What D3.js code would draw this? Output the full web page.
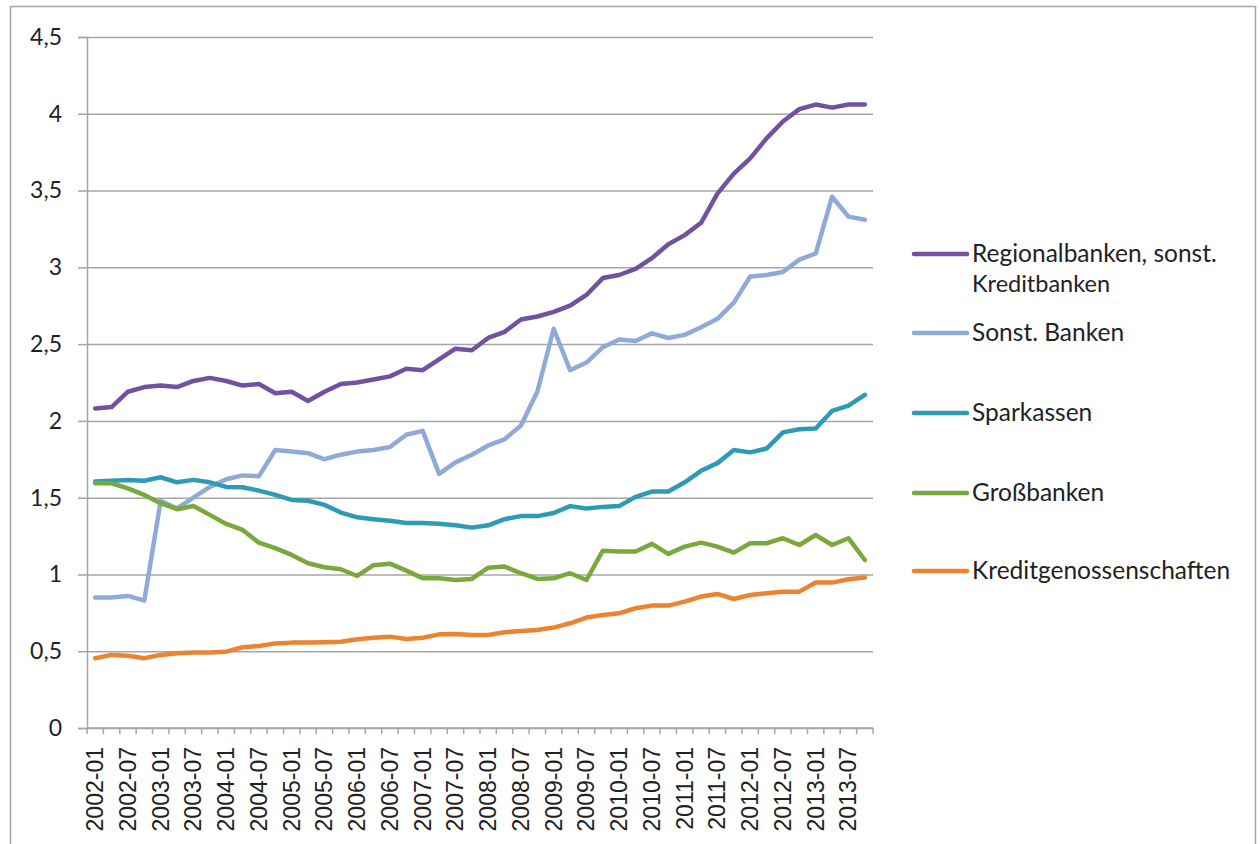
<!DOCTYPE html>
<meta charset="utf-8">
<head>
<script src="https://d3js.org/d3.v7.min.js"></script>
<style>
  body { margin: 0; background: #fff; }
  svg { display: block; }
</style>
</head>
<body>
<svg id="chart" width="1260" height="844"></svg>
<script>

// quarters 2002-01 ... 2013-10
var years = d3.range(2002, 2014);
var months = ["01", "04", "07", "10"];
var quarters = years.flatMap(function(y) { return months.map(function(m) { return y + "-" + m; }); });

var yTicks = [0, 0.5, 1, 1.5, 2, 2.5, 3, 3.5, 4, 4.5];

var seriesNames = ["Regionalbanken, sonst. Kreditbanken", "Sonst. Banken", "Sparkassen", "Großbanken", "Kreditgenossenschaften"];
var seriesColors = ["#7151a0", "#8faad8", "#2e9bb6", "#79a83c", "#ea8431"];

var regional = [2.08, 2.09, 2.19, 2.22, 2.23, 2.22, 2.26, 2.28, 2.26, 2.23, 2.24, 2.18,
                2.19, 2.13, 2.19, 2.24, 2.25, 2.27, 2.29, 2.34, 2.33, 2.40, 2.47, 2.46,
                2.54, 2.58, 2.66, 2.68, 2.71, 2.75, 2.82, 2.93, 2.95, 2.99, 3.06, 3.15,
                3.21, 3.29, 3.48, 3.61, 3.71, 3.84, 3.95, 4.03, 4.06, 4.04, 4.06, 4.06];
var sonstBanken = [0.85, 0.85, 0.86, 0.83, 1.48, 1.43, 1.50, 1.57, 1.62, 1.645, 1.64, 1.81,
                   1.80, 1.79, 1.75, 1.78, 1.80, 1.81, 1.83, 1.91, 1.935, 1.655, 1.73, 1.78,
                   1.84, 1.88, 1.97, 2.19, 2.60, 2.33, 2.38, 2.48, 2.53, 2.52, 2.57, 2.54,
                   2.56, 2.61, 2.665, 2.77, 2.94, 2.95, 2.97, 3.05, 3.09, 3.46, 3.33, 3.31];
var sparkassen = [1.605, 1.61, 1.615, 1.61, 1.633, 1.60, 1.616, 1.60, 1.57, 1.568, 1.546, 1.518,
                  1.485, 1.48, 1.453, 1.403, 1.372, 1.36, 1.35, 1.335, 1.335, 1.33, 1.32, 1.305,
                  1.32, 1.36, 1.38, 1.38, 1.40, 1.445, 1.43, 1.44, 1.445, 1.505, 1.54, 1.54,
                  1.60, 1.675, 1.725, 1.81, 1.795, 1.82, 1.925, 1.945, 1.95, 2.065, 2.10, 2.17];
var grossbanken = [1.594, 1.594, 1.561, 1.518, 1.464, 1.425, 1.446, 1.388, 1.329, 1.29, 1.207, 1.171,
                   1.127, 1.073, 1.047, 1.034, 0.99, 1.06, 1.07, 1.025, 0.975, 0.975, 0.964, 0.971,
                   1.044, 1.051, 1.008, 0.971, 0.975, 1.008, 0.964, 1.155, 1.149, 1.149, 1.199, 1.134,
                   1.181, 1.207, 1.181, 1.142, 1.203, 1.203, 1.236, 1.192, 1.257, 1.192, 1.236, 1.094];
var kreditgen = [0.454, 0.476, 0.471, 0.454, 0.476, 0.487, 0.491, 0.491, 0.497, 0.526, 0.534, 0.551,
                 0.556, 0.556, 0.558, 0.562, 0.578, 0.588, 0.595, 0.58, 0.588, 0.61, 0.612, 0.606,
                 0.606, 0.623, 0.632, 0.638, 0.654, 0.682, 0.719, 0.736, 0.747, 0.78, 0.797, 0.797,
                 0.823, 0.856, 0.873, 0.84, 0.866, 0.877, 0.888, 0.888, 0.947, 0.947, 0.969, 0.98];

var seriesValues = [regional, sonstBanken, sparkassen, grossbanken, kreditgen];

var svg = d3.select("#chart");

// outer frame
svg.append("rect")
  .attr("x", 10.5).attr("y", 6.5)
  .attr("width", 1245).attr("height", 850)
  .attr("fill", "#fff")
  .attr("stroke", "#a3a3a3")
  .attr("stroke-width", 1.5);

var x = d3.scaleBand()
  .domain(quarters)
  .range([87, 873])
  .padding(0);

var y = d3.scaleLinear()
  .domain([0, 4.5])
  .range([728, 37]);

var de = d3.formatLocale({decimal: ",", thousands: ".", grouping: [3], currency: ["", " €"]});
var fmt = de.format("~g");

// gridlines
svg.append("g")
  .attr("transform", "translate(87,0)")
  .call(d3.axisLeft(y).tickValues(yTicks).tickSize(-786).tickFormat(""))
  .call(function(g) {
    g.select(".domain").remove();
    g.selectAll(".tick line").attr("stroke", "#a6a6a6").attr("stroke-width", 1.5);
  });

// y axis
svg.append("g")
  .attr("transform", "translate(87,0)")
  .call(d3.axisLeft(y).tickValues(yTicks).tickSize(9).tickPadding(16).tickFormat(fmt))
  .call(function(g) {
    g.select(".domain").attr("stroke", "#a6a6a6").attr("stroke-width", 1.5);
    g.selectAll(".tick line").attr("stroke", "#a6a6a6").attr("stroke-width", 1.5);
    g.selectAll("text")
      .attr("fill", "#222")
      .style("font-family", "Lato, 'Open Sans', sans-serif")
      .style("font-size", "23px");
  });

// x axis: ticks between categories
var xAxis = svg.append("g")
  .attr("transform", "translate(0,728)");

xAxis.append("line")
  .attr("x1", 87).attr("x2", 873)
  .attr("stroke", "#a6a6a6").attr("stroke-width", 1.5);

xAxis.selectAll(".xtick")
  .data(quarters.concat(["end"]))
  .enter().append("line")
  .attr("class", "xtick")
  .attr("x1", function(d, i) { return i < quarters.length ? x(d) : x.range()[1]; })
  .attr("x2", function(d, i) { return i < quarters.length ? x(d) : x.range()[1]; })
  .attr("y1", 0).attr("y2", 6)
  .attr("stroke", "#a6a6a6").attr("stroke-width", 1.5);

xAxis.selectAll(".xlab")
  .data(quarters.filter(function(d) { return d.endsWith("-01") || d.endsWith("-07"); }))
  .enter().append("text")
  .attr("class", "xlab")
  .attr("transform", function(d) {
    return "translate(" + (x(d) + x.bandwidth() / 2 + 8) + ",19) rotate(-90)";
  })
  .attr("text-anchor", "end")
  .attr("fill", "#222")
  .style("font-family", "'Liberation Sans', Arial, sans-serif")
  .style("font-size", "23px")
  .text(function(d) { return d; });

// lines
var line = d3.line()
  .x(function(d, i) { return x(quarters[i]) + x.bandwidth() / 2; })
  .y(function(d) { return y(d); });

svg.append("g")
  .selectAll("path")
  .data(seriesValues)
  .enter().append("path")
  .attr("d", line)
  .attr("fill", "none")
  .attr("stroke", function(d, i) { return seriesColors[i]; })
  .attr("stroke-width", 4.5)
  .attr("stroke-linejoin", "round")
  .attr("stroke-linecap", "round");

// legend
var legendY = [254, 333, 413, 493, 571];
var legend = svg.append("g");

legend.selectAll("line")
  .data(seriesNames)
  .enter().append("line")
  .attr("x1", 914).attr("x2", 967)
  .attr("y1", function(d, i) { return legendY[i]; })
  .attr("y2", function(d, i) { return legendY[i]; })
  .attr("stroke", function(d, i) { return seriesColors[i]; })
  .attr("stroke-width", 4.5)
  .attr("stroke-linecap", "round");

var ltext = legend.selectAll("text")
  .data(seriesNames)
  .enter().append("text")
  .attr("x", 972)
  .attr("y", function(d, i) { return legendY[i] + 8; })
  .attr("fill", "#222")
  .style("font-family", "Lato, 'Open Sans', sans-serif")
  .style("font-size", "24.5px");

ltext.each(function(d) {
  var t = d3.select(this);
  if (d.indexOf("sonst. Kreditbanken") > 0) {
    t.append("tspan").text("Regionalbanken, sonst.");
    t.append("tspan").attr("x", 972).attr("dy", 30).style("font-size", "23.5px").text("Kreditbanken");
  } else {
    t.text(d);
  }
});

</script>
</body>
